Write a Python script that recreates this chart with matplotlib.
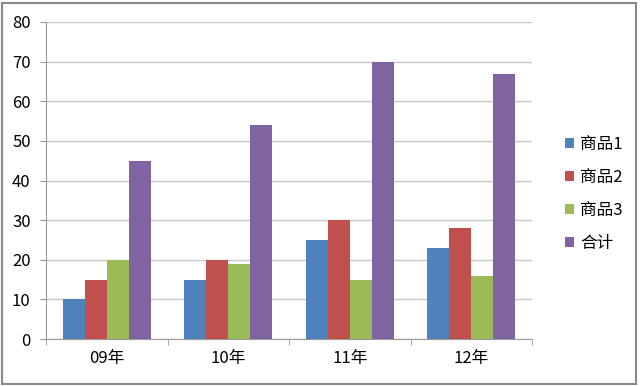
import matplotlib
matplotlib.use("Agg")
import matplotlib.pyplot as plt
from matplotlib.patches import Rectangle
import numpy as np

plt.rcParams['font.family'] = ['Noto Sans CJK SC', 'DejaVu Sans']
plt.rcParams['font.size'] = 12

years = ["09年", "10年", "11年", "12年"]
series_names = ["商品1", "商品2", "商品3", "合计"]
goods1 = [10, 15, 25, 23]
goods2 = [15, 20, 30, 28]
goods3 = [20, 19, 15, 16]
total = [45, 54, 70, 67]
colors = ["#4F81BD", "#C0504D", "#9BBB59", "#8064A2"]

fig = plt.figure(figsize=(6.4, 3.86), dpi=100)
ax = fig.add_axes([46/640, 1-339/386, (532-46)/640, (339-22)/386])

x = np.arange(len(years))
w = 1/5.5
for i, (vals, name) in enumerate(zip([goods1, goods2, goods3, total], series_names)):
    ax.bar(x + (i - 1.5)*w, vals, w, color=colors[i], label=name, zorder=3)

ax.set_xlim(-0.5, 3.5)
ax.set_ylim(0, 80)
ax.set_yticks(range(0, 81, 10))
ax.set_xticks(x)
ax.set_xticklabels(years)
ax.set_xticks(np.arange(-0.5, 4, 1), minor=True)
ax.tick_params(axis='x', which='major', length=0, pad=8, labelsize=12)
ax.tick_params(axis='x', which='minor', length=4, color='#999999')
ax.tick_params(axis='y', length=4, color='#999999', pad=7, labelsize=12)
ax.grid(axis='y', color='#c8c8c8', linewidth=1, zorder=0)
for s in ['top', 'right']:
    ax.spines[s].set_visible(False)
for s in ['left', 'bottom']:
    ax.spines[s].set_color('#999999')

fig.legend(loc='center left', bbox_to_anchor=(550/640, 1-194/386), frameon=False,
           handlelength=0.55, handleheight=0.55, handletextpad=0.35,
           labelspacing=0.95, fontsize=12)

fig.patches.append(Rectangle((2/640, 2/386), 634/640, 381/386, transform=fig.transFigure,
                             fill=False, edgecolor='#8a8a8a', linewidth=1.5))

fig.savefig("out.png", dpi=100)
